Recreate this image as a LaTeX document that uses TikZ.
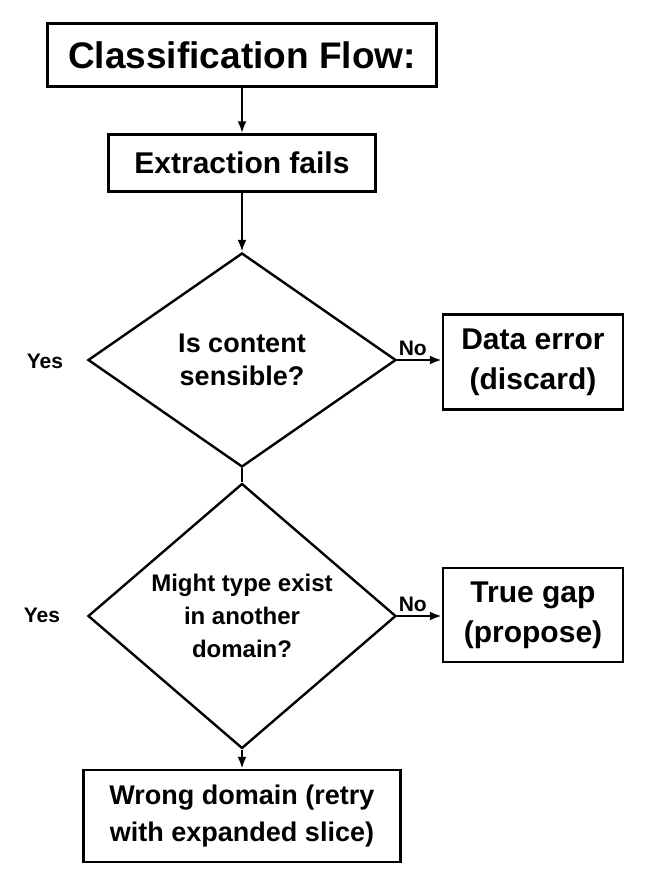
\documentclass[tikz,border=0pt]{standalone}
\usepackage{fontspec}
\setmainfont{Liberation Sans}
\usetikzlibrary{positioning, arrows.meta, shapes.geometric}
\tikzset{
    box/.style={rectangle, draw=black, line width=2.4pt, fill=white, align=center, font=\bfseries\fontsize{30}{36}\selectfont},
    decision/.style={diamond, draw=black, line width=2.4pt, fill=white, align=center, inner sep=0pt, minimum width=308pt, minimum height=214pt, font=\bfseries\fontsize{27}{33}\selectfont},
    arrow/.style={-{Latex[length=12pt, width=9pt]}, line width=2.4pt},
    label/.style={font=\bfseries\fontsize{21}{24}\selectfont}
}
\begin{document}
\begin{tikzpicture}[x=1pt, y=-1pt]
    \useasboundingbox (0,0) rectangle (649,896);
    % Main column
    \node[box, minimum width=389pt, minimum height=63pt, font=\bfseries\fontsize{37}{40}\selectfont] (title) at (242,55) {Classification Flow:};
    \node[box, minimum width=267pt, minimum height=57pt] (extract) at (242,163) {Extraction fails};
    \node[decision] (sensible) at (242,360) {Is content\\sensible?};
    \node[decision, font=\bfseries\fontsize{24}{33}\selectfont] (exist) at (242,616) {Might type exist\\in another\\domain?};
    \node[box, minimum width=317pt, minimum height=92pt, font=\bfseries\fontsize{27}{37}\selectfont] (wrong) at (242,816) {Wrong domain (retry\\with expanded slice)};
    % Side outcomes
    \node[box, minimum width=180pt, minimum height=95pt, font=\bfseries\fontsize{30}{40}\selectfont] (error) at (533,362) {Data error\\(discard)};
    \node[box, minimum width=180pt, minimum height=94pt, font=\bfseries\fontsize{30}{40}\selectfont] (gap) at (533,615) {True gap\\(propose)};
    % Connectors
    \draw[arrow] (title) -- (extract);
    \draw[arrow] (extract) -- (sensible.north);
    \draw[line width=2.4pt] (sensible.south) -- (exist.north);
    \draw[arrow] (exist.south) -- (wrong);
    \draw[arrow] (sensible.east) -- node[label, above, pos=0.35] {No} (sensible.east -| error.west);
    \draw[arrow] (exist.east) -- node[label, above, pos=0.35] {No} (exist.east -| gap.west);
    % Yes labels
    \node[label] (yes1) at (45,361) {Yes};
    \node[label] (yes2) at (42,615) {Yes};
\end{tikzpicture}
\end{document}
